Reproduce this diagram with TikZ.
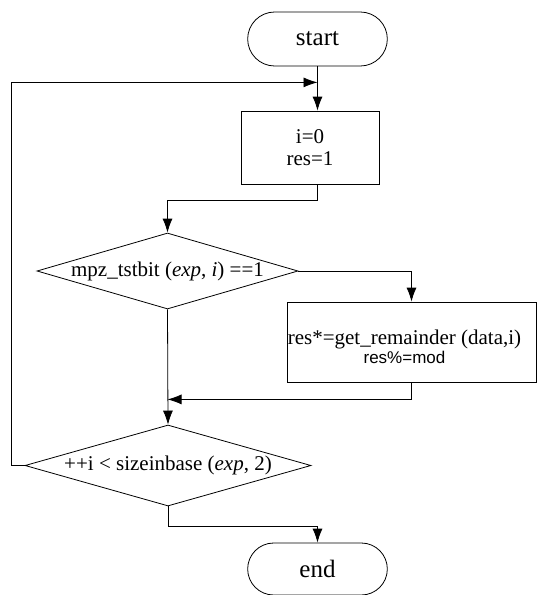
\documentclass[tikz,border=0pt]{standalone}
\usepackage{fontspec}
\setmainfont{Liberation Serif}
\newfontfamily\arialfont{Liberation Sans}
\usetikzlibrary{arrows.meta,shapes.geometric,shapes.misc}

\begin{document}
\begin{tikzpicture}
  [x=0.5pt, y=-0.5pt,
    >={Latex[length=7pt,width=5pt]},
    terminal/.style={rounded rectangle, draw=black, thin, minimum width=76.5pt, minimum height=27pt, font=\fontsize{12.5}{14}\selectfont},
    process/.style={rectangle, draw=black, thin, align=center, font=\fontsize{10.5}{11}\selectfont},
    decision/.style={diamond, draw=black, thin, inner sep=0pt, text height=7pt, text depth=2pt, font=\fontsize{10.5}{12}\selectfont},
    flow/.style={draw=black, thin}
  ]
  \useasboundingbox (0,0) rectangle (537,595);

  \path (317.5, 39) node[terminal] (start) {start}
        (310, 147.5) node[process, minimum width=69pt, minimum height=36.5pt] (init) {i=0\\ res=1}
        (167.5, 271) node[decision, aspect=3.43, minimum width=130.5pt, minimum height=38pt] (test) {mpz\_tstbit (\textit{exp}, \textit{i}) ==1}
        (411.5, 342) node[process, minimum width=124.5pt, minimum height=40pt] (mult) {}
        (404.5, 347) node[align=center, inner sep=0pt, font=\fontsize{10.5}{7}\selectfont] (multtxt) {res*=get\_remainder (data,i)\\ {\arialfont\fontsize{8.5}{7}\selectfont res\%=mod}}
        (168, 465.5) node[decision, aspect=3.53, minimum width=143pt, minimum height=40.5pt] (loop) {++i < sizeinbase (\textit{exp}, 2)}
        (317.5, 569) node[terminal, minimum height=26pt] (end) {end};

  % main line
  \draw[flow,->] (start.south) -- (start.south |- init.north);
  \draw[flow,->] (start.south |- init.south) -- ++(0,16) -| (test.north);
  \draw[flow,->] (test.east) -| (mult.north);
  \draw[flow,->] (mult.south) -- ++(0,17) coordinate (back) -- (test.south |- back);
  \draw[flow,->] (test.south) -- (loop.north);
  \draw[flow,->] (loop.south) -- ++(0,20) -| (end.north);

  % loop back
  \draw[flow,->] (loop.west) -- ++(-13,0) |- ([yshift=-8pt]start.south);

\end{tikzpicture}
\end{document}
